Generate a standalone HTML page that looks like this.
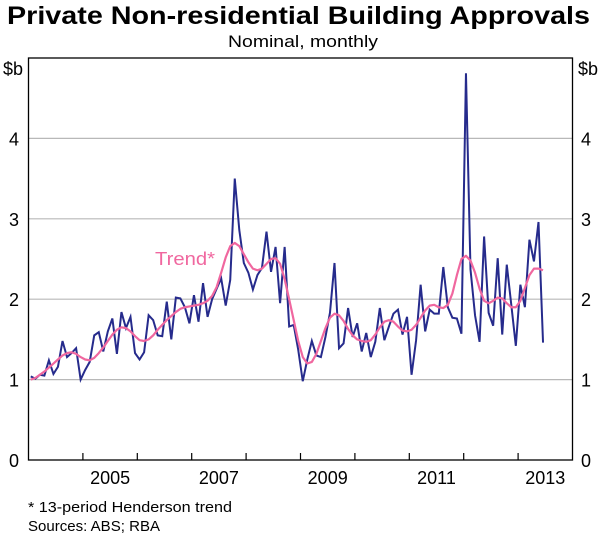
<!DOCTYPE html>
<html><head><meta charset="utf-8"><style>
body{margin:0;background:#fff;font-family:"Liberation Sans",sans-serif;}
svg text{font-family:"Liberation Sans",sans-serif;}
</style></head><body>
<svg id="chart" width="600" height="536" xmlns="http://www.w3.org/2000/svg">
<text x="7" y="24" font-size="25" font-weight="bold" textLength="583" lengthAdjust="spacingAndGlyphs">Private Non-residential Building Approvals</text>
<text x="228" y="47" font-size="17" textLength="150" lengthAdjust="spacingAndGlyphs">Nominal, monthly</text>
<g id="grid"></g>
<g id="axes"></g>
<g id="series"></g>
<text x="155" y="265" font-size="18" fill="#f0679f" textLength="60" lengthAdjust="spacingAndGlyphs">Trend*</text>
<text x="28" y="512" font-size="14.5" textLength="204" lengthAdjust="spacingAndGlyphs">* 13-period Henderson trend</text>
<text x="28" y="531" font-size="14.5" textLength="132" lengthAdjust="spacingAndGlyphs">Sources: ABS; RBA</text>
</svg>
<script>
const yTicks=[0,1,2,3,4];
const yearLabels=["2005","2007","2009","2011","2013"];
const approvals=[1.04,1.01,1.06,1.05,1.24,1.07,1.16,1.48,1.28,1.33,
1.39,1.00,1.12,1.22,1.55,1.59,1.35,1.60,1.76,1.32,
1.84,1.64,1.78,1.33,1.25,1.34,1.80,1.74,1.55,1.54,
1.97,1.50,2.02,2.01,1.90,1.70,2.05,1.72,2.20,1.78,
2.00,2.13,2.26,1.92,2.24,3.50,2.86,2.45,2.33,2.12,
2.30,2.39,2.84,2.34,2.65,1.95,2.65,1.66,1.68,1.37,
0.98,1.25,1.48,1.30,1.28,1.53,1.83,2.45,1.39,1.45,
1.89,1.53,1.70,1.35,1.58,1.28,1.47,1.89,1.49,1.66,
1.82,1.87,1.56,1.78,1.06,1.49,2.18,1.60,1.87,1.82,
1.82,2.40,1.90,1.77,1.76,1.57,4.81,2.37,1.80,1.47,
2.78,1.83,1.67,2.51,1.56,2.43,1.93,1.42,2.18,1.90,
2.74,2.47,2.96,1.46];
const trend=[1.00,1.02,1.06,1.10,1.15,1.20,1.25,1.30,1.33,1.34,
1.32,1.28,1.25,1.24,1.27,1.33,1.40,1.48,1.56,1.62,
1.65,1.64,1.60,1.54,1.49,1.48,1.50,1.55,1.62,1.68,
1.74,1.79,1.84,1.88,1.90,1.91,1.92,1.93,1.95,1.98,
2.04,2.15,2.33,2.52,2.66,2.70,2.66,2.56,2.46,2.38,
2.36,2.38,2.44,2.50,2.51,2.44,2.25,2.00,1.74,1.48,
1.28,1.20,1.22,1.32,1.48,1.64,1.77,1.82,1.80,1.73,
1.63,1.55,1.50,1.48,1.47,1.49,1.56,1.65,1.72,1.74,
1.72,1.66,1.61,1.60,1.62,1.68,1.77,1.86,1.92,1.93,
1.90,1.89,1.93,2.07,2.30,2.50,2.54,2.48,2.33,2.13,
1.98,1.95,1.98,2.02,2.01,1.95,1.90,1.90,1.98,2.14,
2.30,2.38,2.38,2.36];
const startYear=2004;
const L=28.5,R=572.5,T=58,B=460,yMax=5,yearsSpan=10;
const x=m=>L+(m+0.5)/12*(R-L)/yearsSpan;
const xYear=yr=>L+(yr-startYear)*(R-L)/yearsSpan;
const y=v=>B-v/yMax*(B-T);
const NS="http://www.w3.org/2000/svg";
function mk(tag,attrs,parent,txt){const e=document.createElementNS(NS,tag);for(const k in attrs)e.setAttribute(k,attrs[k]);if(txt!==undefined)e.textContent=txt;parent.appendChild(e);return e;}
const grid=document.getElementById('grid'),axes=document.getElementById('axes'),series=document.getElementById('series');
yTicks.forEach(t=>{
  if(t>0){const g=mk('line',{x1:L,x2:R,y1:y(t),y2:y(t),stroke:'#b8b8b8','stroke-width':1.2},grid);
  
  }
  const a=mk('text',{x:14,y:y(t)+7,'text-anchor':'middle','font-size':18},axes,String(t));
  
  
  const b=mk('text',{x:586,y:y(t)+7,'text-anchor':'middle','font-size':18},axes,String(t));
  
  
});
const u1=mk('text',{x:13,y:75,'text-anchor':'middle','font-size':18},axes,'$b');


const u2=mk('text',{x:588,y:75,'text-anchor':'middle','font-size':18},axes,'$b');


const frame=mk('rect',{x:L,y:T,width:R-L,height:B-T,fill:'none',stroke:'#000','stroke-width':1.3},axes);


for(let yr=startYear+1;yr<startYear+yearsSpan;yr++){
  const tk=mk('line',{x1:xYear(yr),x2:xYear(yr),y1:B,y2:B-7,stroke:'#000','stroke-width':1.2},axes);
  
  
}
yearLabels.forEach(l=>{
  const t=mk('text',{x:xYear(+l+0.5),y:484,'text-anchor':'middle','font-size':18},axes,l);
  
  
});
const tp=mk('polyline',{points:trend.map((v,i)=>x(i)+','+y(v)).join(' '),fill:'none',stroke:'#f0679f','stroke-width':2.2,'stroke-linejoin':'round'},series);


const ap=mk('polyline',{points:approvals.map((v,i)=>x(i)+','+y(v)).join(' '),fill:'none',stroke:'#262b8c','stroke-width':2,'stroke-linejoin':'miter'},series);


series.insertBefore(ap,tp);
</script>
</body></html>
